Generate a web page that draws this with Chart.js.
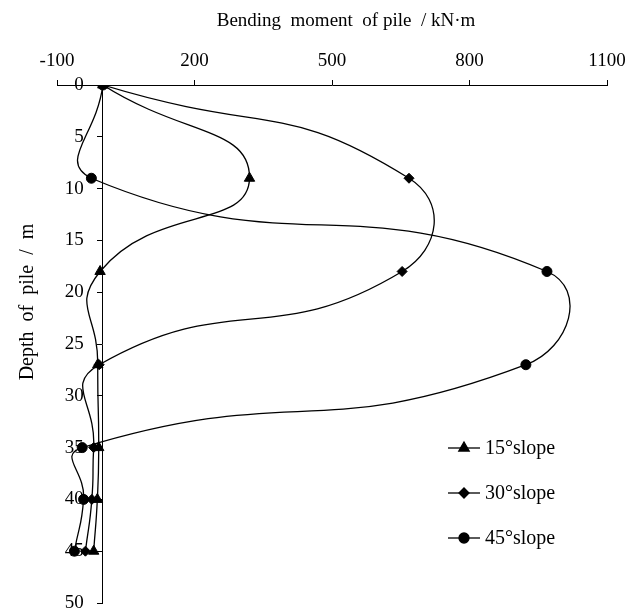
<!DOCTYPE html>
<html>
<head>
<meta charset="utf-8">
<title>Bending moment of pile</title>
<script src="https://cdn.jsdelivr.net/npm/chart.js@4.4.1/dist/chart.umd.min.js"></script>
<style>
  html, body { margin: 0; padding: 0; background: #fff; }
  #wrap { width: 642px; height: 610px; }
</style>
</head>
<body>
<div id="wrap"><canvas id="momentChart" width="642" height="610"></canvas></div>
<script>
// depth of the measuring points (m)
const depths = [0, 9, 18, 27, 35, 40, 45];
// bending moment (kN·m) for each slope angle
const slope15 = [0, 320, -6, -11, -9, -12, -20];
const slope30 = [0, 668, 653, -8, -20, -24, -38];
const slope45 = [0, -25, 969, 923, -45, -42, -62];

const seriesNames = ['15°slope', '30°slope', '45°slope'];
const xTicks = [-100, 200, 500, 800, 1100];

const serif = "'Liberation Serif', 'Times New Roman', serif";
Chart.defaults.font.family = serif;
Chart.defaults.font.size = 19;
Chart.defaults.color = '#000';

function toPoints(values) {
    return values.map((v, i) => ({ x: v, y: depths[i] }));
}

function makeSet(label, values, style, r) {
    return {
        label: label,
        data: toPoints(values),
        showLine: true,
        tension: 0.55,
        borderColor: '#000',
        borderWidth: 1.3,
        backgroundColor: '#000',
        pointStyle: style,
        pointRadius: r,
        pointBorderWidth: 1,
        pointBorderColor: '#000',
        pointBackgroundColor: '#000',
    };
}

// axis titles and legend box are drawn by hand
const extras = {
    id: 'extras',
    afterDraw(chart) {
        const ctx = chart.ctx;
        const area = chart.chartArea;
        ctx.save();
        ctx.fillStyle = '#000';
        ctx.textBaseline = 'middle';

        // moment axis title, above the tick labels
        ctx.font = '19px ' + serif;
        ctx.textAlign = 'center';
        ctx.fillText('Bending  moment  of pile  / kN·m', area.left + 289, 21);

        // depth axis title
        ctx.save();
        ctx.font = '20px ' + serif;
        ctx.translate(area.left - 29, area.top + 217);
        ctx.rotate(-Math.PI / 2);
        ctx.fillText('Depth  of  pile  /  m', 0, 0);
        ctx.restore();

        // legend
        ctx.font = '20px ' + serif;
        ctx.textAlign = 'left';
        chart.data.datasets.forEach((ds, i) => {
            const y = area.top + 363 + i * 45;
            const x0 = area.left + 391;
            ctx.strokeStyle = '#000';
            ctx.lineWidth = 1.3;
            ctx.beginPath();
            ctx.moveTo(x0, y);
            ctx.lineTo(x0 + 32, y);
            ctx.stroke();
            Chart.helpers.drawPoint(ctx, {
                pointStyle: ds.pointStyle,
                radius: ds.pointRadius,
                rotation: 0,
                borderWidth: 1
            }, x0 + 16, y);
            ctx.fillText(ds.label, x0 + 37, y + 1);
        });
        ctx.restore();
    }
};

const ctx = document.getElementById('momentChart').getContext('2d');
const chart = new Chart(ctx, {
    type: 'scatter',
    data: {
        datasets: [
            makeSet(seriesNames[0], slope15, 'triangle', 6),
            makeSet(seriesNames[1], slope30, 'rectRot', 5),
            makeSet(seriesNames[2], slope45, 'circle', 5),
        ]
    },
    options: {
        responsive: false,
        animation: false,
        layout: { padding: { left: 57, right: 35, top: 0, bottom: 6 } },
        plugins: {
            legend: { display: false },
            tooltip: { enabled: false },
        },
        scales: {
            x: {
                type: 'linear',
                position: 'top',
                min: -100,
                max: 1100,
                afterBuildTicks: s => { s.ticks = xTicks.map(v => ({ value: v })); },
                afterFit: s => { s.height = 85; },
                ticks: { padding: 8, color: '#000', callback: v => String(v) },
                grid: { drawOnChartArea: false, tickLength: 5, color: '#000', lineWidth: 1 },
                border: { color: '#000', width: 1 },
            },
            y: {
                type: 'linear',
                position: { x: 0 },
                reverse: true,
                min: 0,
                max: 50,
                afterFit: s => { s.paddingTop = 0; s.paddingBottom = 0; },
                // axis sits at x = 0, labels kept clear of the tick marks
                ticks: { stepSize: 5, color: '#000', callback: v => v + '    ' },
                grid: { drawOnChartArea: false, tickLength: 5, color: '#000', lineWidth: 1 },
                border: { color: '#000', width: 1 },
            },
        },
    },
    plugins: [extras],
});
</script>
</body>
</html>
